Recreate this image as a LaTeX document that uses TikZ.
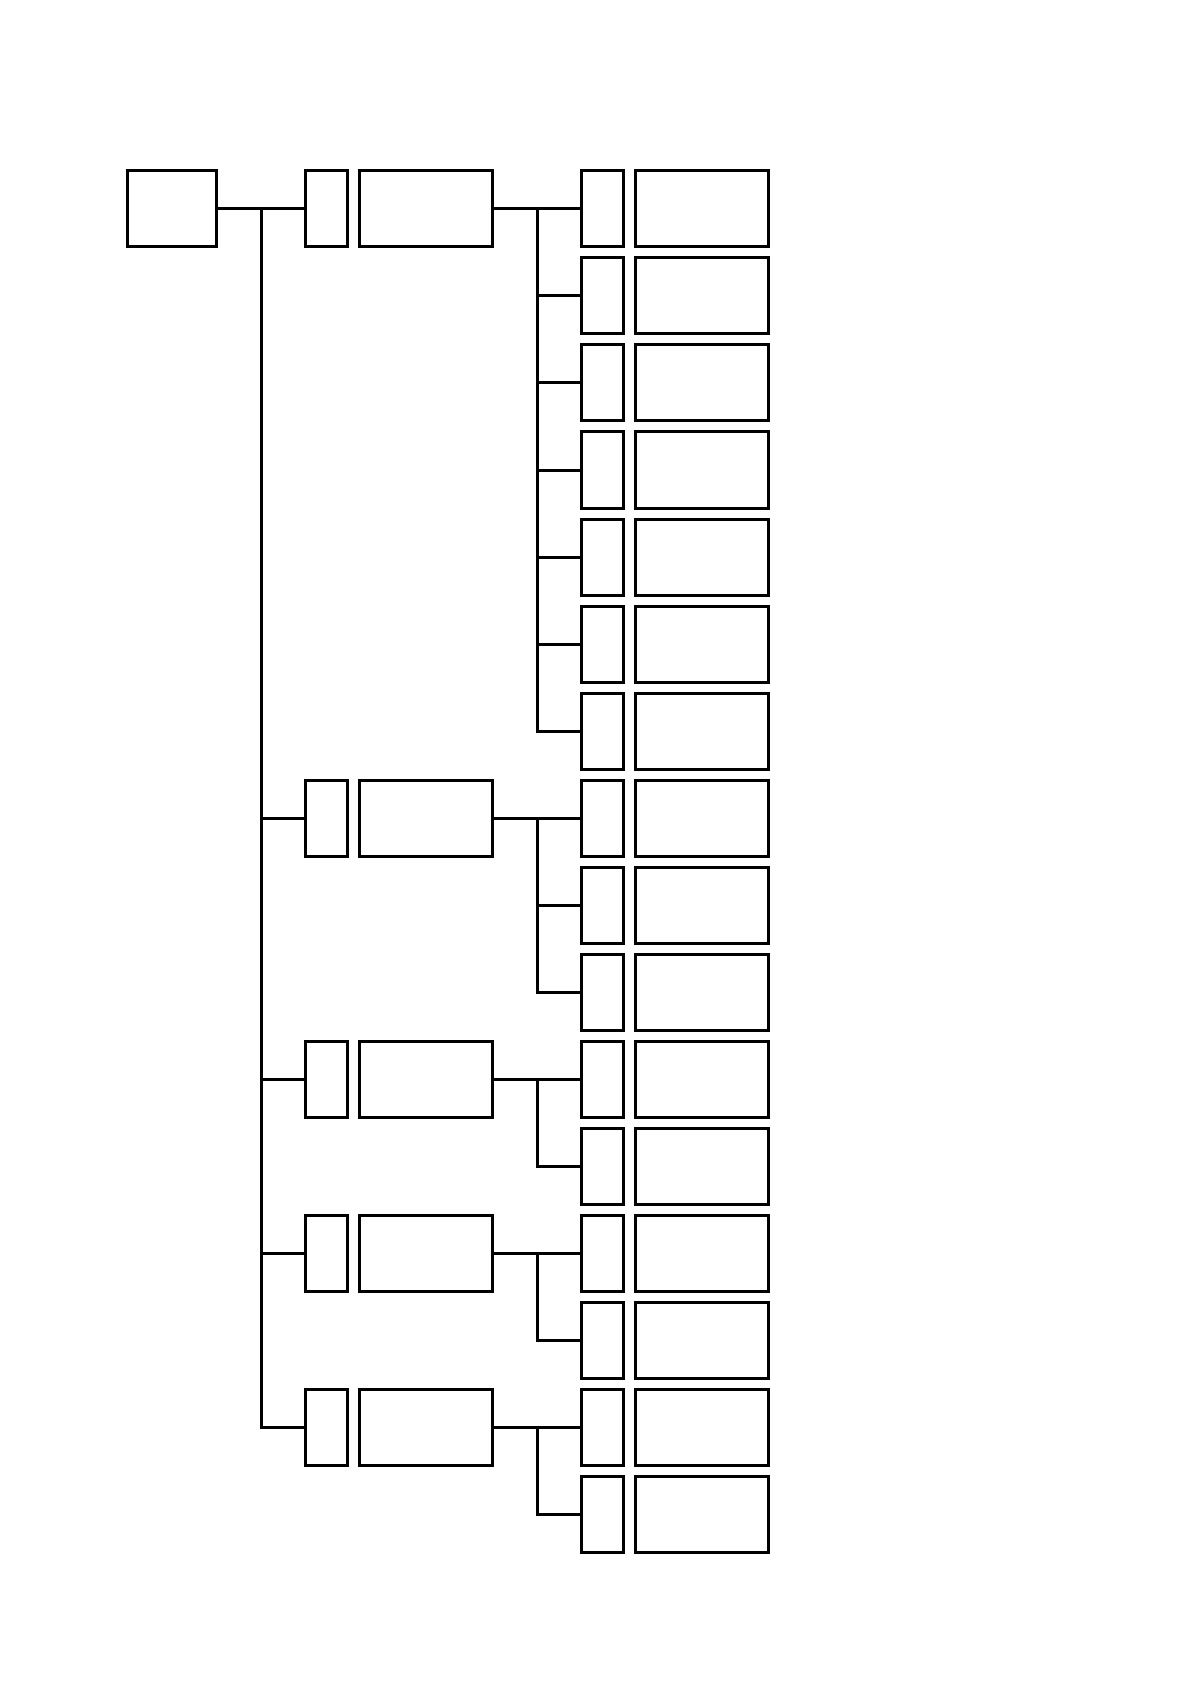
\documentclass[tikz,border=0pt]{standalone}
\begin{document}
\begin{tikzpicture}[x=0.5pt,y=-0.5pt,
  box/.style={draw,line width=1.5pt,minimum height=38pt,inner sep=0pt},
  tag/.style={box,minimum width=21pt},
  wide/.style={box,minimum width=66.5pt},
  link/.style={line width=1.5pt}]
\useasboundingbox (0,0) rectangle (1191,1684);

\node[box,minimum width=44.5pt] (root) at (171.5,209) {};

% groups
\foreach \g/\r in {1/0,2/7,3/10,4/12,5/14}{
  \node[tag] (g\g) at (326,209+87*\r) {};
  \node[wide] (gw\g) at (425.5,209+87*\r) {};
}
% leaves
\foreach \i in {0,...,15}{
  \node[tag] (l\i) at (602,209+87*\i) {};
  \node[wide] (lw\i) at (701.5,209+87*\i) {};
}

% trunk
\coordinate (trunk) at (261,209);
\draw[link] (root.east) -- (g1.west);
\draw[link] (trunk) |- (g5.west);
\foreach \g in {2,3,4}
  \draw[link] (trunk |- g\g.west) -- (g\g.west);

% branches
\foreach \g/\f/\t in {1/0/6,2/7/9,3/10/11,4/12/13,5/14/15}{
  \draw[link] (gw\g.east) -- (l\f.west);
  \coordinate (b\g) at (537,209+87*\f);
  \draw[link] (b\g) |- (l\t.west);
  \foreach \k in {\f,...,\t}
    \draw[link] (b\g |- l\k.west) -- (l\k.west);
}
\end{tikzpicture}
\end{document}
